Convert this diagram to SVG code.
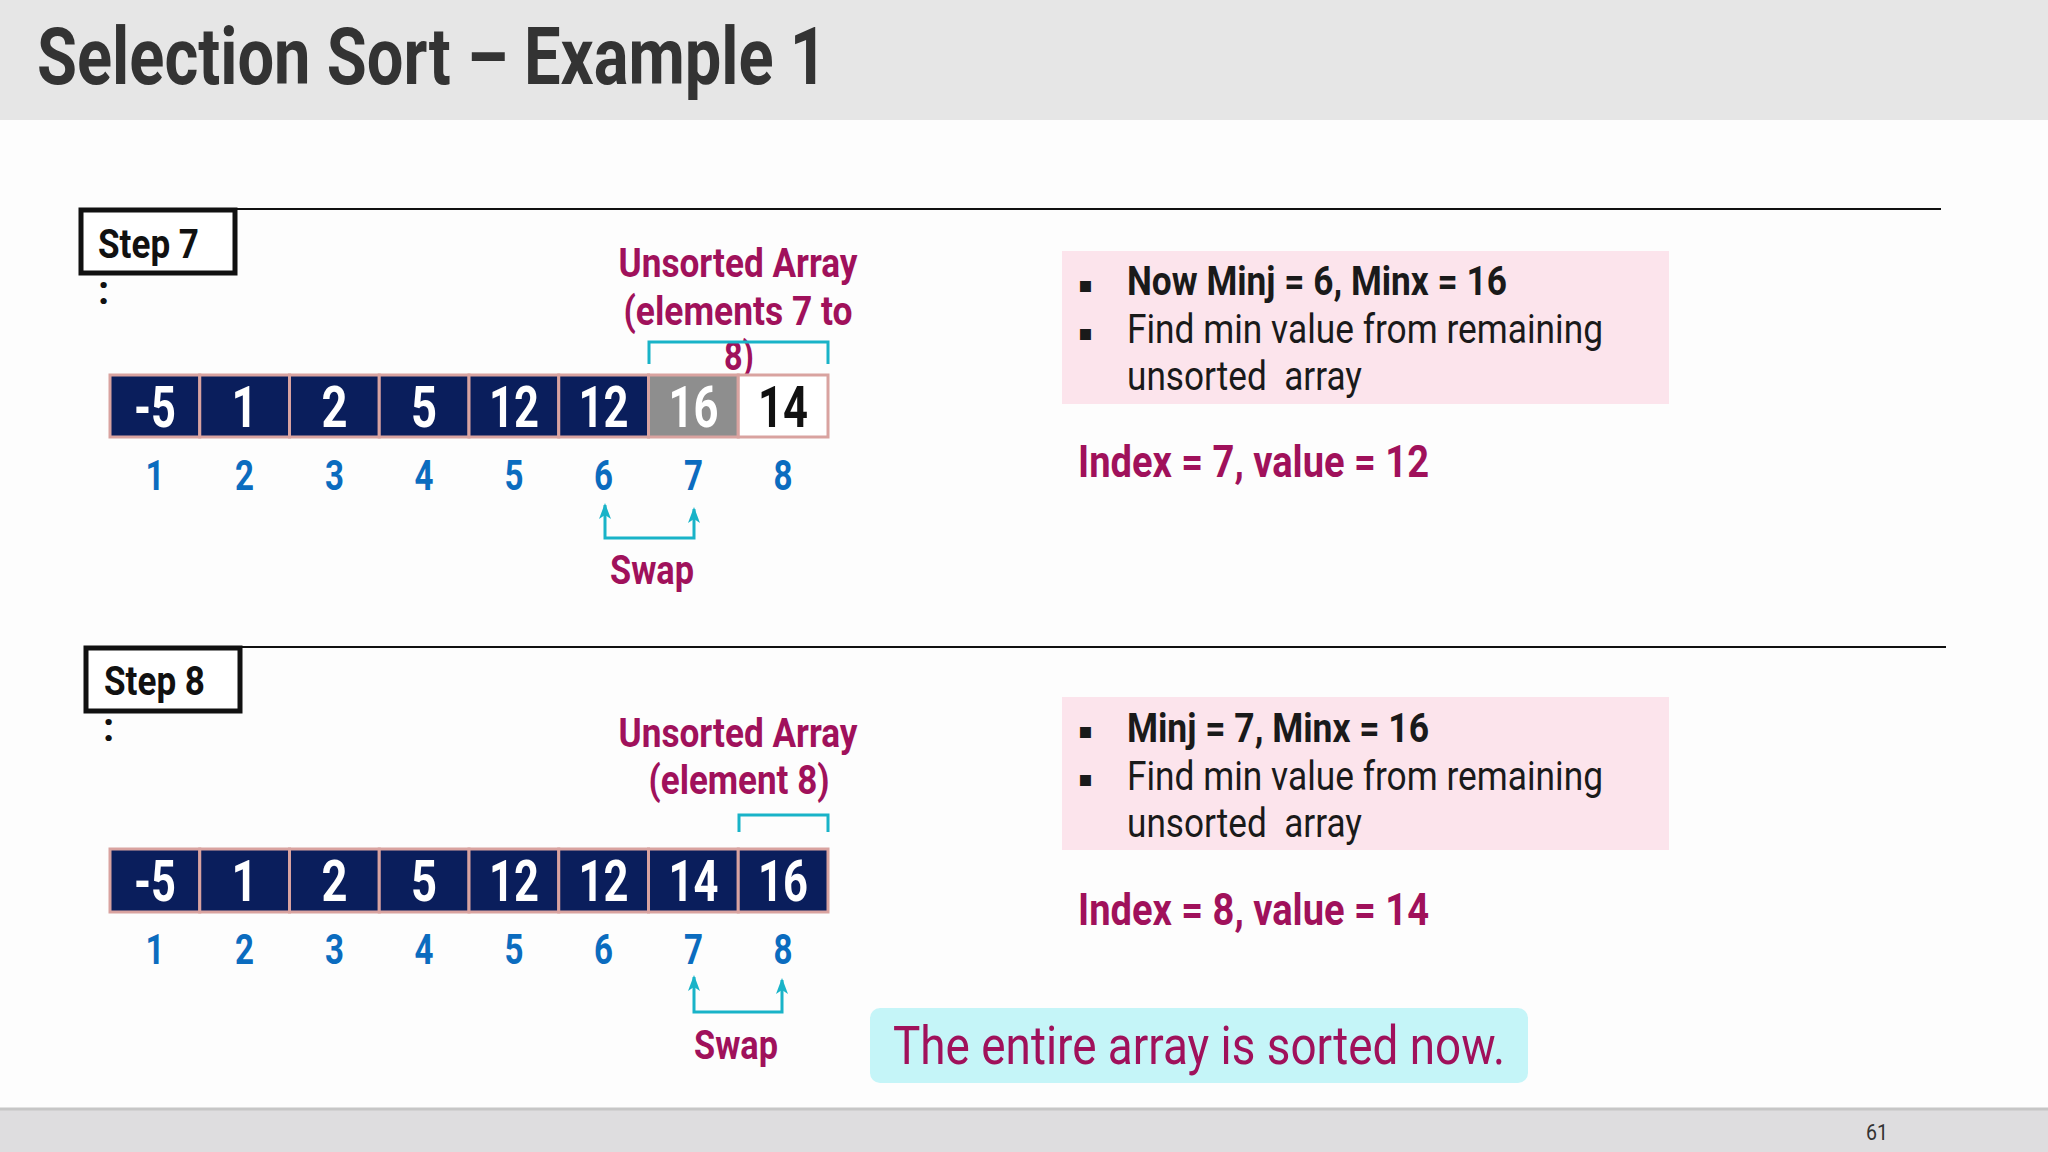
<svg xmlns="http://www.w3.org/2000/svg" width="2048" height="1152" viewBox="0 0 2048 1152">
  <defs>
    <style>
      .title { font-family: Roboto, "Liberation Sans", sans-serif; font-weight: 700; font-size: 80px; fill: #333333; }
      .step { font-family: Roboto, "Liberation Sans", sans-serif; font-weight: 700; font-size: 40px; fill: #111111; }
      .stepbox { fill: #ffffff; stroke: #111111; stroke-width: 5; }
      .rule { stroke: #111111; stroke-width: 2; }
      .mag { font-family: Roboto, "Liberation Sans", sans-serif; font-weight: 700; font-size: 40px; fill: #A0115B; text-anchor: middle; }
      .cellN { fill: #0A1E5C; stroke: #D9A3A0; stroke-width: 3; }
      .cellG { fill: #8E8E8E; stroke: #D9A3A0; stroke-width: 3; }
      .cellW { fill: #FFFFFF; stroke: #D9A3A0; stroke-width: 3; }
      .val { font-family: Roboto, "Liberation Sans", sans-serif; font-weight: 700; font-size: 58px; fill: #FFFFFF; text-anchor: middle; }
      .valB { fill: #111111; }
      .idx { font-family: Roboto, "Liberation Sans", sans-serif; font-weight: 700; font-size: 42px; fill: #0B6CBF; text-anchor: middle; }
      .conn { fill: none; stroke: #19B3C8; stroke-width: 3; }
      .pink { fill: #FCE4EC; }
      .info { font-family: Roboto, "Liberation Sans", sans-serif; font-size: 40px; fill: #1A1A1A; }
      .bold { font-weight: 700; }
      .bul { font-family: "DejaVu Sans", sans-serif; font-size: 22px; fill: #1A1A1A; }
      .idxline { font-family: Roboto, "Liberation Sans", sans-serif; font-weight: 700; font-size: 44px; fill: #A0115B; }
    </style>
    <marker id="ah" markerWidth="16" markerHeight="12" refX="14" refY="6" orient="auto-start-reverse" markerUnits="userSpaceOnUse" viewBox="0 0 16 12">
      <path d="M0,0 L16,6 L0,12 L4,6 Z" fill="#19B3C8"/>
    </marker>
  </defs>

  <!-- background -->
  <rect x="0" y="0" width="2048" height="1152" fill="#FDFDFD"/>
  <rect x="0" y="0" width="2048" height="120" fill="#E6E6E6"/>
  <rect x="0" y="1109" width="2048" height="43" fill="#DEDDDF"/>
  <line x1="0" y1="1109" x2="2048" y2="1109" stroke="#C6C6C6" stroke-width="3"/>

  <text class="title" x="37" y="84" textLength="790" lengthAdjust="spacingAndGlyphs">Selection Sort – Example 1</text>
  <text x="1877" y="1140" font-family="Roboto, 'Liberation Sans', sans-serif" font-size="22" fill="#333333" text-anchor="middle" textLength="22" lengthAdjust="spacingAndGlyphs">61</text>

  <!-- ===== Step 7 ===== -->
  <g id="step7-header">
    <line class="rule" x1="235" y1="209" x2="1941" y2="209"/>
    <rect class="stepbox" x="81" y="210" width="154" height="63"/>
    <text class="step" x="98" y="258" textLength="101" lengthAdjust="spacingAndGlyphs">Step 7</text>
    <text class="step" x="98" y="304" font-size="36">:</text>
  </g>

  <g id="step7-unsorted-label">
    <text class="mag" x="738" y="277" textLength="239" lengthAdjust="spacingAndGlyphs">Unsorted Array</text>
    <text class="mag" x="738" y="325" textLength="229" lengthAdjust="spacingAndGlyphs">(elements 7 to</text>
    <text class="mag" x="739" y="370" textLength="30" lengthAdjust="spacingAndGlyphs">8)</text>
  </g>

  <g id="step7-array">
    <rect class="cellN" x="110" y="375" width="89.75" height="62"/>
    <rect class="cellN" x="199.75" y="375" width="89.75" height="62"/>
    <rect class="cellN" x="289.5" y="375" width="89.75" height="62"/>
    <rect class="cellN" x="379.25" y="375" width="89.75" height="62"/>
    <rect class="cellN" x="469" y="375" width="89.75" height="62"/>
    <rect class="cellN" x="558.75" y="375" width="89.75" height="62"/>
    <rect class="cellG" x="648.5" y="375" width="89.75" height="62"/>
    <rect class="cellW" x="738.25" y="375" width="89.75" height="62"/>
    <text class="val" x="155" y="427" textLength="42" lengthAdjust="spacingAndGlyphs">-5</text>
    <text class="val" x="244.6" y="427" textLength="26" lengthAdjust="spacingAndGlyphs">1</text>
    <text class="val" x="334.4" y="427" textLength="26" lengthAdjust="spacingAndGlyphs">2</text>
    <text class="val" x="424.1" y="427" textLength="26" lengthAdjust="spacingAndGlyphs">5</text>
    <text class="val" x="513.9" y="427" textLength="50" lengthAdjust="spacingAndGlyphs">12</text>
    <text class="val" x="603.6" y="427" textLength="50" lengthAdjust="spacingAndGlyphs">12</text>
    <text class="val" x="693.4" y="427" textLength="50" lengthAdjust="spacingAndGlyphs">16</text>
    <text class="val valB" x="783.1" y="427" textLength="50" lengthAdjust="spacingAndGlyphs">14</text>
  </g>

  <g id="step7-indices">
    <text class="idx" x="155" y="490" textLength="19" lengthAdjust="spacingAndGlyphs">1</text>
    <text class="idx" x="244.6" y="490" textLength="19" lengthAdjust="spacingAndGlyphs">2</text>
    <text class="idx" x="334.4" y="490" textLength="19" lengthAdjust="spacingAndGlyphs">3</text>
    <text class="idx" x="424.1" y="490" textLength="19" lengthAdjust="spacingAndGlyphs">4</text>
    <text class="idx" x="513.9" y="490" textLength="19" lengthAdjust="spacingAndGlyphs">5</text>
    <text class="idx" x="603.6" y="490" textLength="19" lengthAdjust="spacingAndGlyphs">6</text>
    <text class="idx" x="693.4" y="490" textLength="19" lengthAdjust="spacingAndGlyphs">7</text>
    <text class="idx" x="783.1" y="490" textLength="19" lengthAdjust="spacingAndGlyphs">8</text>
  </g>

  <g id="step7-swap-label">
    <text class="mag" x="652" y="584" textLength="84" lengthAdjust="spacingAndGlyphs">Swap</text>
  </g>

  <g id="step7-info">
    <rect class="pink" x="1062" y="251" width="607" height="153"/>
    <text class="bul" x="1078" y="292">▪</text>
    <text class="bul" x="1078" y="340">▪</text>
    <text class="info bold" x="1127" y="295" textLength="380" lengthAdjust="spacingAndGlyphs">Now Minj = 6, Minx = 16</text>
    <text class="info" x="1127" y="343" textLength="476" lengthAdjust="spacingAndGlyphs">Find min value from remaining</text>
    <text class="info" x="1127" y="390" textLength="235" lengthAdjust="spacingAndGlyphs" xml:space="preserve">unsorted  array</text>
    <text class="idxline" x="1078" y="477" textLength="351" lengthAdjust="spacingAndGlyphs">Index = 7, value = 12</text>
  </g>

  <!-- ===== Step 8 ===== -->
  <g id="step8-header">
    <line class="rule" x1="240" y1="647" x2="1946" y2="647"/>
    <rect class="stepbox" x="86" y="648" width="154" height="63"/>
    <text class="step" x="104" y="695" textLength="101" lengthAdjust="spacingAndGlyphs">Step 8</text>
    <text class="step" x="103" y="741" font-size="36">:</text>
  </g>

  <g id="step8-unsorted-label">
    <text class="mag" x="738" y="747" textLength="239" lengthAdjust="spacingAndGlyphs">Unsorted Array</text>
    <text class="mag" x="739" y="794" textLength="181" lengthAdjust="spacingAndGlyphs">(element 8)</text>
  </g>

  <g id="step8-array">
    <rect class="cellN" x="110" y="849" width="89.75" height="63"/>
    <rect class="cellN" x="199.75" y="849" width="89.75" height="63"/>
    <rect class="cellN" x="289.5" y="849" width="89.75" height="63"/>
    <rect class="cellN" x="379.25" y="849" width="89.75" height="63"/>
    <rect class="cellN" x="469" y="849" width="89.75" height="63"/>
    <rect class="cellN" x="558.75" y="849" width="89.75" height="63"/>
    <rect class="cellN" x="648.5" y="849" width="89.75" height="63"/>
    <rect class="cellN" x="738.25" y="849" width="89.75" height="63"/>
    <text class="val" x="155" y="901" textLength="42" lengthAdjust="spacingAndGlyphs">-5</text>
    <text class="val" x="244.6" y="901" textLength="26" lengthAdjust="spacingAndGlyphs">1</text>
    <text class="val" x="334.4" y="901" textLength="26" lengthAdjust="spacingAndGlyphs">2</text>
    <text class="val" x="424.1" y="901" textLength="26" lengthAdjust="spacingAndGlyphs">5</text>
    <text class="val" x="513.9" y="901" textLength="50" lengthAdjust="spacingAndGlyphs">12</text>
    <text class="val" x="603.6" y="901" textLength="50" lengthAdjust="spacingAndGlyphs">12</text>
    <text class="val" x="693.4" y="901" textLength="50" lengthAdjust="spacingAndGlyphs">14</text>
    <text class="val" x="783.1" y="901" textLength="50" lengthAdjust="spacingAndGlyphs">16</text>
  </g>

  <g id="step8-indices">
    <text class="idx" x="155" y="964" textLength="19" lengthAdjust="spacingAndGlyphs">1</text>
    <text class="idx" x="244.6" y="964" textLength="19" lengthAdjust="spacingAndGlyphs">2</text>
    <text class="idx" x="334.4" y="964" textLength="19" lengthAdjust="spacingAndGlyphs">3</text>
    <text class="idx" x="424.1" y="964" textLength="19" lengthAdjust="spacingAndGlyphs">4</text>
    <text class="idx" x="513.9" y="964" textLength="19" lengthAdjust="spacingAndGlyphs">5</text>
    <text class="idx" x="603.6" y="964" textLength="19" lengthAdjust="spacingAndGlyphs">6</text>
    <text class="idx" x="693.4" y="964" textLength="19" lengthAdjust="spacingAndGlyphs">7</text>
    <text class="idx" x="783.1" y="964" textLength="19" lengthAdjust="spacingAndGlyphs">8</text>
  </g>

  <g id="step8-swap-label">
    <text class="mag" x="736" y="1059" textLength="84" lengthAdjust="spacingAndGlyphs">Swap</text>
  </g>

  <g id="step8-info">
    <rect class="pink" x="1062" y="697" width="607" height="153"/>
    <text class="bul" x="1078" y="738">▪</text>
    <text class="bul" x="1078" y="786">▪</text>
    <text class="info bold" x="1127" y="742" textLength="302" lengthAdjust="spacingAndGlyphs">Minj = 7, Minx = 16</text>
    <text class="info" x="1127" y="790" textLength="476" lengthAdjust="spacingAndGlyphs">Find min value from remaining</text>
    <text class="info" x="1127" y="837" textLength="235" lengthAdjust="spacingAndGlyphs" xml:space="preserve">unsorted  array</text>
    <text class="idxline" x="1078" y="925" textLength="351" lengthAdjust="spacingAndGlyphs">Index = 8, value = 14</text>
  </g>

  <g id="sorted-note">
    <rect x="870" y="1008" width="658" height="75" rx="10" fill="#C5F5F8"/>
    <text x="893" y="1064" font-family="Roboto, 'Liberation Sans', sans-serif" font-size="54" fill="#A0115B" textLength="612" lengthAdjust="spacingAndGlyphs">The entire array is sorted now.</text>
  </g>

  <!-- connectors: brackets and swap arrows -->
  <g id="connectors">
    <path class="conn" d="M649,364 V342 H828 V364"/>
    <path class="conn" d="M605,505 V538 H694 V509" marker-start="url(#ah)" marker-end="url(#ah)"/>
    <path class="conn" d="M739,832 V815 H828 V832"/>
    <path class="conn" d="M694,977 V1012 H782 V980" marker-start="url(#ah)" marker-end="url(#ah)"/>
  </g>
</svg>
